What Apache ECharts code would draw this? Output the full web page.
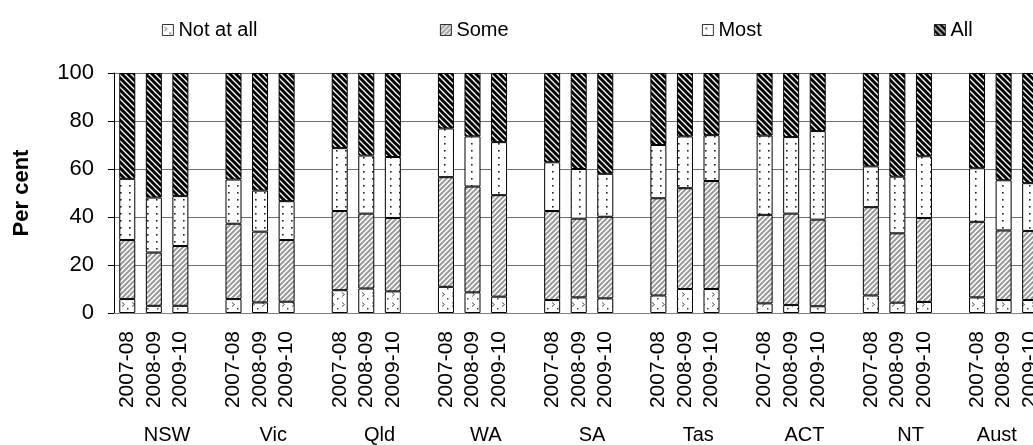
<!DOCTYPE html>
<html><head><meta charset="utf-8">
<script src="https://cdn.jsdelivr.net/npm/echarts@6/dist/echarts.min.js"></script>
<style>html,body{margin:0;padding:0;overflow:hidden;background:#fff;width:1033px;height:445px}#c{width:1080px;height:445px}</style>
</head><body><div id="c"></div>
<script>
const groups = ['NSW','Vic','Qld','WA','SA','Tas','ACT','NT','Aust'];
const years = ['2007-08','2008-09','2009-10'];
const seriesNames = ['Not at all','Some','Most','All'];
const notAtAll = [5.8,3.0,3.0, 5.8,4.4,4.7, 9.5,10.2,9.0, 10.9,8.6,6.8, 5.4,6.5,6.1, 7.3,10.0,10.0, 4.0,3.3,2.8, 7.3,4.3,4.6, 6.5,5.4,5.4];
const some = [24.6,22.2,24.9, 31.4,29.5,25.7, 33.0,31.2,30.6, 45.7,44.1,42.3, 37.1,32.8,34.0, 40.5,42.0,45.0, 36.9,38.1,36.1, 36.8,28.9,35.0, 31.5,29.0,28.8];
const most = [25.5,22.9,20.8, 18.4,17.1,16.2, 26.2,24.2,25.4, 20.3,20.9,22.1, 20.3,20.7,17.9, 22.2,21.6,19.1, 33.0,31.9,36.9, 17.0,23.6,25.7, 22.3,20.9,19.9];
const all = [44.1,51.9,51.3, 44.4,49.0,53.4, 31.3,34.4,35.0, 23.1,26.4,28.8, 37.2,40.0,42.0, 30.0,26.4,25.9, 26.1,26.7,24.2, 38.9,43.2,34.7, 39.7,44.7,45.9];
const yMin = 0, yMax = 100, yStep = 20;

// categories with a blank slot after each group
const cats = [];
groups.forEach(() => { years.forEach(y => cats.push(y)); cats.push(''); });
function spread(arr) {
  const out = [];
  groups.forEach((g, gi) => { for (let i = 0; i < years.length; i++) out.push(arr[gi * years.length + i]); out.push('-'); });
  return out;
}
// last group label is kept inside the visible area
const groupLabels = groups.map((g, i) => i === groups.length - 1 ? { value: g, textStyle: { align: 'right' } } : g);

function tile(w, h, draw) {
  const c = document.createElement('canvas'); c.width = w; c.height = h;
  const g = c.getContext('2d'); g.fillStyle = '#fff'; g.fillRect(0, 0, w, h); draw(g, w, h);
  return { image: c, repeat: 'repeat' };
}
function diag(color, lw, down) {
  return (g, w, h) => {
    g.strokeStyle = color; g.lineWidth = lw; g.beginPath();
    for (let k = -w; k <= w; k += w) {
      if (down) { g.moveTo(k - 1, -1); g.lineTo(k + w + 1, h + 1); }
      else { g.moveTo(k - 1, h + 1); g.lineTo(k + w + 1, -1); }
    }
    g.stroke();
  };
}
const patNot = tile(10, 10, g => {
  g.strokeStyle = '#555'; g.lineWidth = 1; g.beginPath();
  g.moveTo(2, 2.5); g.lineTo(4.5, 4.5); g.lineTo(2, 6.5); g.stroke();
  g.fillStyle = '#444'; g.fillRect(7, 8, 1.5, 1.5);
});
const patSome = tile(5, 5, diag('#9a9a9a', 2, false));
const patMost = tile(9, 7, g => { g.fillStyle = '#222'; g.fillRect(3, 3, 1.6, 1.6); });
const patAll = tile(6, 6, diag('#000', 3, true));
const pats = [patNot, patSome, patMost, patAll];
const vals = [notAtAll, some, most, all];

const legendLeft = [162, 440, 702, 934];
const chart = echarts.init(document.getElementById('c'), null, { renderer: 'canvas' });
chart.setOption({
  animation: false,
  textStyle: { fontFamily: 'Liberation Sans, Arial, sans-serif', color: '#000' },
  legend: seriesNames.map((n, i) => ({
    data: [n], left: legendLeft[i], top: 20, padding: 0, icon: 'rect', itemWidth: 11, itemHeight: 11,
    itemStyle: { borderColor: '#000', borderWidth: 0.8 },
    textStyle: { fontSize: 20, color: '#000', fontFamily: 'Liberation Sans, Arial, sans-serif' }
  })),
  grid: { left: 114, top: 73, bottom: 131, right: 10, containLabel: false },
  xAxis: [{
    type: 'category', data: cats, position: 'bottom',
    axisLine: { show: true, lineStyle: { color: '#808080', width: 1 } },
    axisTick: { show: false },
    axisLabel: { interval: 0, rotate: 90, margin: 18, fontSize: 21, color: '#000', fontFamily: 'Liberation Sans, Arial, sans-serif' }
  }, {
    type: 'category', data: groupLabels, position: 'bottom',
    axisLine: { show: false }, axisTick: { show: false },
    axisLabel: { interval: 0, margin: 112, fontSize: 20, color: '#000', fontFamily: 'Liberation Sans, Arial, sans-serif' }
  }],
  yAxis: {
    type: 'value', min: yMin, max: yMax, interval: yStep,
    axisLine: { show: true, lineStyle: { color: '#000', width: 1 } },
    axisTick: { show: true, inside: false, length: 6, lineStyle: { color: '#000' } },
    axisLabel: { fontSize: 22, margin: 20, color: '#000', fontFamily: 'Liberation Sans, Arial, sans-serif' },
    splitLine: { show: true, lineStyle: { color: '#707070', width: 1 } }
  },
  graphic: [{
    type: 'text', x: 22, y: 193, rotation: Math.PI / 2,
    style: { text: 'Per cent', fill: '#000', font: 'bold 22px "Liberation Sans", Arial, sans-serif', textAlign: 'center', textVerticalAlign: 'middle' }
  }],
  series: seriesNames.map((n, i) => ({
    name: n, type: 'bar', stack: 'total', barWidth: 16, xAxisIndex: 0,
    data: spread(vals[i]),
    itemStyle: { color: pats[i], borderColor: '#000', borderWidth: 1 },
    emphasis: { disabled: true }
  }))
});
</script></body></html>
